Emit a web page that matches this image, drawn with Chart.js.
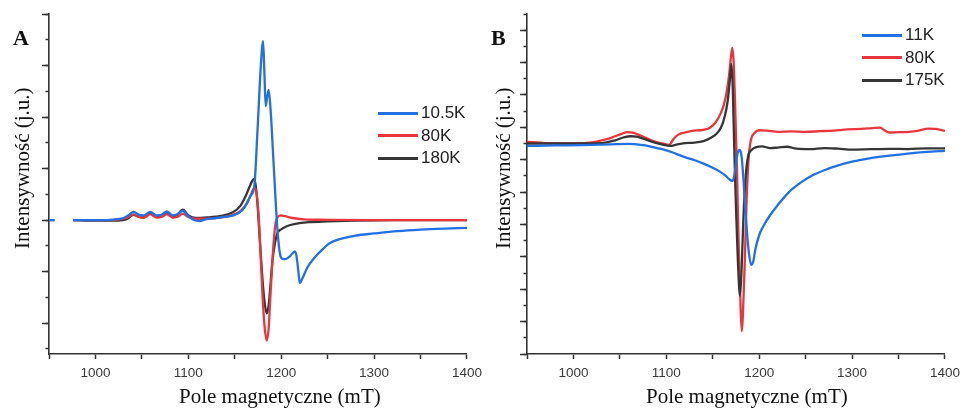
<!DOCTYPE html>
<html>
<head>
<meta charset="utf-8">
<script src="https://cdn.jsdelivr.net/npm/chart.js@4.4.1/dist/chart.umd.min.js"></script>
<style>
  body { margin: 0; background: #fff; }
  #wrap { position: relative; width: 966px; height: 408px; overflow: hidden; background: #fff; }
  canvas { position: absolute; top: 0; }
  #cA { left: 0; }
  #cB { left: 488px; }
  .lbl { position: absolute; white-space: nowrap; line-height: 1; color: #111; }
  .panel { font: bold 22px "Liberation Serif", "Times New Roman", serif; }
  .xt { font: 21px "Liberation Serif", "Times New Roman", serif; }
  .yt { font: 21px "Liberation Serif", "Times New Roman", serif; transform-origin: 0 0; transform: rotate(-90deg); }
  .leg { position: absolute; font: 17px "Liberation Sans", Arial, sans-serif; color: #222; }
  .leg .row { height: 22.5px; display: flex; align-items: center; }
  .leg .ln { display: inline-block; width: 40px; height: 3px; }
</style>
</head>
<body>
<div id="wrap">
  <canvas id="cA" width="488" height="408"></canvas>
  <canvas id="cB" width="478" height="408"></canvas>

  <div class="lbl panel" style="left:13px;top:25px;">A</div>
  <div class="lbl panel" style="left:491px;top:25px;">B</div>

  <div class="lbl yt" style="left:10px;top:249px;">Intensywność (j.u.)</div>
  <div class="lbl yt" style="left:491px;top:249px;">Intensywność (j.u.)</div>

  <div class="lbl xt" style="left:179px;top:384px;">Pole magnetyczne (mT)</div>
  <div class="lbl xt" style="left:646px;top:384px;">Pole magnetyczne (mT)</div>

  <div class="leg" id="legA" style="left:378px;top:102px;"></div>
  <div class="leg" id="legB" style="left:862px;top:24px;"></div>
</div>

<script>
// ---- Panel A: EPR spectra, field (mT) vs. intensity (a.u., baseline 0) ----
const fieldA_10K = [950, 956, 966, 976, 1000, 1020, 1030, 1036, 1041, 1047, 1052, 1059, 1066, 1071, 1077, 1083, 1088, 1094, 1100, 1106, 1112, 1120, 1130, 1140, 1150, 1158, 1163, 1167, 1171, 1174.5, 1178, 1180.5, 1182, 1183.3, 1185, 1186.5, 1188.6, 1192, 1195.7, 1198.6, 1201, 1204, 1208, 1212, 1214.5, 1216.5, 1218.5, 1220, 1223, 1228, 1236, 1245, 1252, 1265, 1280, 1300, 1325, 1350, 1375, 1400];
const intA_10K   = [0, 0, null, 0, 0, 0.02, 0.08, 0.2, 0.32, 0.2, 0.18, 0.32, 0.18, 0.2, 0.34, 0.18, 0.22, 0.36, 0.15, 0.0, -0.04, 0.04, 0.08, 0.12, 0.2, 0.38, 0.65, 0.95, 1.3, 3.5, 5.95, 6.95, 5.6, 4.43, 4.8, 5.05, 4.27, 2.07, -0.26, -1.3, -1.5, -1.52, -1.45, -1.3, -1.22, -1.4, -2.0, -2.44, -2.25, -1.85, -1.45, -1.12, -0.9, -0.72, -0.6, -0.52, -0.43, -0.37, -0.33, -0.3];

const fieldA_80K = [950, 956, 966, 976, 1000, 1025, 1033, 1041, 1047, 1052, 1059, 1066, 1071, 1077, 1083, 1088, 1094, 1100, 1108, 1120, 1135, 1148, 1157, 1163, 1167, 1170, 1172, 1174, 1176, 1178, 1180, 1182, 1184.4, 1186.5, 1188, 1190, 1192, 1194, 1196, 1199, 1204, 1212, 1225, 1250, 1300, 1350, 1400];
const intA_80K   = [0, 0, null, 0, 0, 0.02, 0.08, 0.22, 0.12, 0.1, 0.22, 0.1, 0.12, 0.22, 0.1, 0.12, 0.24, 0.12, 0.05, 0.05, 0.1, 0.2, 0.38, 0.65, 0.95, 1.2, 1.25, 0.9, 0.0, -1.5, -3.0, -4.1, -4.68, -4.2, -3.2, -1.9, -0.8, -0.1, 0.1, 0.18, 0.15, 0.08, 0.03, 0.01, 0, 0, 0];

const fieldA_180K = [976, 1000, 1025, 1033, 1041, 1047, 1052, 1059, 1066, 1071, 1077, 1083, 1088, 1094, 1100, 1108, 1120, 1135, 1148, 1156, 1162, 1166, 1168.5, 1170.5, 1172.5, 1174.5, 1176.5, 1178.5, 1180.5, 1182.5, 1184.5, 1186.5, 1188.5, 1190.5, 1193, 1196, 1200, 1206, 1215, 1230, 1250, 1280, 1320, 1400];
const intA_180K   = [0, -0.02, -0.02, 0.02, 0.2, 0.12, 0.1, 0.26, 0.14, 0.15, 0.3, 0.15, 0.2, 0.4, 0.18, 0.08, 0.1, 0.16, 0.3, 0.55, 0.95, 1.3, 1.5, 1.6, 1.35, 0.6, -0.5, -1.6, -2.6, -3.3, -3.62, -3.3, -2.5, -1.6, -0.95, -0.5, -0.36, -0.24, -0.15, -0.08, -0.05, -0.02, 0, 0];

// ---- Panel B ----
const fieldB_11K = [950, 980, 1010, 1040, 1058, 1075, 1090, 1100, 1110, 1120, 1130, 1140, 1150, 1158, 1164, 1168, 1171, 1173, 1175, 1177, 1179, 1181, 1183, 1185, 1187, 1189, 1191.3, 1193.5, 1196, 1200, 1205, 1212, 1220, 1232, 1245, 1258, 1270, 1285, 1300, 1320, 1340, 1360, 1380, 1400];
const intB_11K   = [12.85, 12.88, 12.9, 12.95, 12.98, 12.9, 12.72, 12.58, 12.38, 12.16, 11.98, 11.76, 11.5, 11.25, 11.0, 10.78, 10.7, 10.95, 11.8, 12.45, 12.6, 12.2, 10.8, 9.0, 7.4, 6.2, 5.5, 5.7, 6.5, 7.35, 7.95, 8.6, 9.2, 10.0, 10.6, 11.05, 11.35, 11.65, 11.88, 12.1, 12.25, 12.38, 12.48, 12.55];

const fieldB_80K = [950, 965, 980, 1000, 1012, 1025, 1035, 1045, 1052, 1058, 1064, 1070, 1078, 1086, 1094, 1100, 1103, 1108, 1113, 1120, 1128, 1140, 1147, 1153, 1158, 1162, 1165, 1167.5, 1169.5, 1171, 1172.5, 1174, 1176, 1178, 1180, 1181.3, 1182.5, 1184.5, 1186.5, 1188.5, 1191, 1195, 1200, 1208, 1220, 1235, 1250, 1265, 1280, 1295, 1310, 1322, 1330, 1334, 1340, 1350, 1362, 1372, 1382, 1390, 1400];
const intB_80K   = [13.1, 13.05, 13.0, 13.0, 13.02, 13.12, 13.25, 13.45, 13.6, 13.7, 13.68, 13.55, 13.35, 13.15, 13.02, 12.95, 12.92, 13.3, 13.55, 13.68, 13.78, 13.85, 13.98, 14.3, 14.8, 15.4, 16.2, 17.2, 18.3, 18.9, 18.0, 15.5, 11.5, 6.5, 2.8, 1.4, 2.5, 5.8, 9.6, 12.0, 13.2, 13.65, 13.82, 13.8, 13.72, 13.75, 13.72, 13.76, 13.8, 13.87, 13.9, 13.95, 13.98, 13.85, 13.68, 13.7, 13.72, 13.8, 13.92, 13.9, 13.78];

const fieldB_175K = [950, 1000, 1030, 1045, 1055, 1062, 1068, 1075, 1085, 1095, 1104, 1112, 1120, 1130, 1140, 1148, 1154, 1159, 1163, 1166, 1168.5, 1170, 1171.5, 1173, 1175, 1177, 1179.3, 1181, 1183, 1185.5, 1188, 1192, 1197, 1203, 1212, 1220, 1230, 1240, 1255, 1270, 1285, 1300, 1320, 1340, 1360, 1380, 1400];
const intB_175K   = [13.0, 13.0, 13.02, 13.2, 13.4, 13.45, 13.42, 13.3, 13.1, 12.95, 12.85, 12.95, 13.02, 13.05, 13.15, 13.35, 13.6, 14.0, 14.7, 15.6, 17.0, 17.9, 16.5, 13.0, 9.0, 5.8, 3.6, 5.2, 8.4, 11.0, 12.2, 12.62, 12.78, 12.82, 12.72, 12.75, 12.8, 12.68, 12.65, 12.72, 12.68, 12.62, 12.65, 12.67, 12.66, 12.7, 12.7];

// x-axis: ticks every 50 mT, labels on the hundreds
const fieldLabels = [1000, 1100, 1200, 1300, 1400];
const labelsA = ['10.5K', '80K', '180K'];
const labelsB = ['11K', '80K', '175K'];

const BLUE = '#2170e4', RED = '#e8363c', DARK = '#363636', AXIS = '#333';

const pts = (xs, ys) => xs.map((x, i) => ({ x, y: ys[i] }));

function series(label, xs, ys, color, order) {
  return { label, data: pts(xs, ys), borderColor: color, backgroundColor: color,
           borderWidth: 2.3, pointRadius: 0, fill: false, spanGaps: false,
           cubicInterpolationMode: 'monotone', order };
}

function makePanel(canvas, datasets, yMin, yMax, axisLeft, padRight) {
  return new Chart(canvas, {
    type: 'line',
    data: { datasets },
    options: {
      responsive: false, animation: false, devicePixelRatio: 1,
      layout: { padding: { left: 0, top: 14, right: padRight, bottom: 0 } },
      plugins: { legend: { display: false }, tooltip: { enabled: false } },
      scales: {
        x: {
          type: 'linear', position: 'bottom', min: 950, max: 1400,
          ticks: { stepSize: 50, maxTicksLimit: 100, autoSkip: false, maxRotation: 0, padding: 6,
                   color: '#3a3a3a', font: { family: 'Liberation Sans', size: 13.5 },
                   callback: v => fieldLabels.includes(v) ? String(v) : '' },
          grid: { drawOnChartArea: false, drawTicks: true, tickLength: 5, tickWidth: 1.5, tickColor: AXIS },
          border: { display: true, color: AXIS, width: 1.6 },
          afterFit: s => { s.height = 54; }
        },
        y: {
          type: 'linear', position: 'left', min: yMin, max: yMax,
          ticks: { display: false, stepSize: 1, maxTicksLimit: 100, includeBounds: false },
          grid: { drawOnChartArea: false, drawTicks: true, tickLength: 3.5, tickWidth: 1.5, tickColor: AXIS },
          border: { display: true, color: AXIS, width: 1.6 },
          afterFit: s => { s.width = axisLeft; }
        },
        yMajor: {
          type: 'linear', position: { x: 950 }, min: yMin, max: yMax,
          ticks: { display: false, stepSize: 2, maxTicksLimit: 100, includeBounds: false },
          grid: { drawOnChartArea: false, drawTicks: true, tickLength: 7, tickWidth: 1.5, tickColor: AXIS },
          border: { display: false }
        }
      }
    }
  });
}

makePanel(document.getElementById('cA'), [
  series(labelsA[0], fieldA_10K, intA_10K, BLUE, 0),
  series(labelsA[1], fieldA_80K, intA_80K, RED, 1),
  series(labelsA[2], fieldA_180K, intA_180K, DARK, 2)
], -5.2, 8, 49, 16);

makePanel(document.getElementById('cB'), [
  series(labelsB[0], fieldB_11K, intB_11K, BLUE, 0),
  series(labelsB[1], fieldB_80K, intB_80K, RED, 2),
  series(labelsB[2], fieldB_175K, intB_175K, DARK, 1)
], 0, 21, 39, 17);

// line-sample legends
function legend(el, labels) {
  const colors = [BLUE, RED, DARK];
  labels.forEach((t, i) => {
    const row = document.createElement('div');
    row.className = 'row';
    const ln = document.createElement('span');
    ln.className = 'ln';
    ln.style.background = colors[i];
    ln.style.marginRight = '3px';
    const tx = document.createElement('span');
    tx.textContent = t;
    row.appendChild(ln);
    row.appendChild(tx);
    el.appendChild(row);
  });
}
legend(document.getElementById('legA'), labelsA);
legend(document.getElementById('legB'), labelsB);
</script>
</body>
</html>
